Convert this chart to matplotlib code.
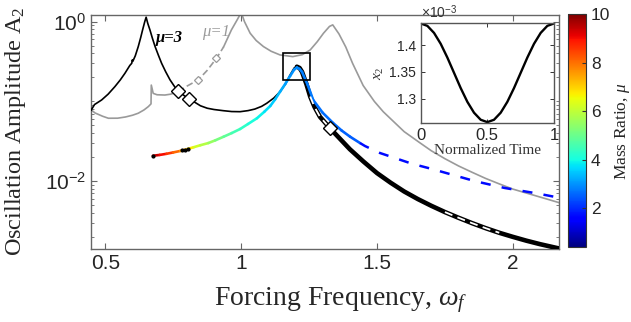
import matplotlib
matplotlib.use("Agg")
import matplotlib.pyplot as plt
import numpy as np
from matplotlib.collections import LineCollection
from matplotlib.colors import Normalize
from matplotlib.patches import Rectangle
from matplotlib.ticker import FixedLocator, FuncFormatter, LogLocator, NullFormatter

plt.rcParams["font.family"] = ["Liberation Sans", "DejaVu Sans"]
plt.rcParams["mathtext.fontset"] = "custom"
plt.rcParams["mathtext.rm"] = "Liberation Serif"
plt.rcParams["mathtext.it"] = "Liberation Serif:italic"

# --- data -----------------------------------------------------------------
# mu = 3 response (thin black)
mu3_w = [0.448, 0.460, 0.486, 0.510, 0.535, 0.555, 0.572, 0.590, 0.597, 0.599,
         0.601, 0.610, 0.621, 0.630, 0.637, 0.645, 0.650, 0.656, 0.664, 0.673,
         0.683, 0.695, 0.707, 0.722, 0.738, 0.752, 0.766, 0.808, 0.830, 0.850,
         0.875, 0.900, 0.934, 0.965, 0.996, 1.025, 1.050, 1.075, 1.094, 1.120,
         1.143, 1.163, 1.180, 1.195, 1.205]
mu3_A = [0.078, 0.0912, 0.104, 0.123, 0.153, 0.186, 0.225, 0.282, 0.300, 0.330,
         0.318, 0.372, 0.486, 0.631, 0.787, 1.000, 1.135, 0.950, 0.787, 0.620,
         0.486, 0.380, 0.300, 0.235, 0.186, 0.158, 0.135, 0.107, 0.097, 0.088,
         0.082, 0.079, 0.0764, 0.0745, 0.0742, 0.0765, 0.080, 0.0865, 0.0946, 0.110,
         0.132, 0.165, 0.214, 0.262, 0.272]

# mu = 1 response (gray): solid left part, dashed middle part, solid right part
mu1_left_w = [0.448, 0.462, 0.490, 0.511, 0.545, 0.574, 0.600, 0.621, 0.642, 0.658,
              0.668, 0.669, 0.676, 0.690, 0.719, 0.740, 0.756, 0.768]
mu1_left_A = [0.078, 0.0715, 0.065, 0.0614, 0.0615, 0.0637, 0.067, 0.071, 0.078, 0.0859,
              0.093, 0.160, 0.126, 0.121, 0.120, 0.123, 0.128, 0.133]
mu1_mid_w = [0.768, 0.800, 0.842, 0.875, 0.909, 0.935]
mu1_mid_A = [0.133, 0.155, 0.186, 0.245, 0.347, 0.480]
mu1_right_w = [0.935, 0.964, 0.985, 1.000, 1.012, 1.033, 1.055, 1.082, 1.110, 1.143,
               1.190, 1.225, 1.254, 1.280, 1.303, 1.325, 1.337, 1.360, 1.385, 1.410,
               1.449, 1.490, 1.523, 1.560, 1.600, 1.658, 1.700, 1.750, 1.800, 1.850,
               1.900, 1.950, 2.000, 2.060, 2.120, 2.170]
mu1_right_A = [0.480, 0.787, 1.050, 1.300, 1.000, 0.715, 0.580, 0.486, 0.425, 0.382,
               0.364, 0.385, 0.441, 0.560, 0.715, 0.870, 0.910, 0.700, 0.480, 0.300,
               0.158, 0.100, 0.0741, 0.0562, 0.0417, 0.0302, 0.0240, 0.0191, 0.0155, 0.0129,
               0.0108, 0.00923, 0.00794, 0.00692, 0.00603, 0.00537]
mu1_marker_w = [0.842, 0.909]
mu1_marker_A = [0.186, 0.347]

# optimal branch coloured by mass ratio
opt_w = [0.675, 0.700, 0.725, 0.750, 0.776, 0.800, 0.825, 0.850, 0.879, 0.905,
         0.935, 0.965, 0.996, 1.025, 1.058, 1.085, 1.107, 1.125, 1.143, 1.162,
         1.180, 1.195, 1.205, 1.215, 1.224, 1.245, 1.265, 1.300, 1.338, 1.370,
         1.401, 1.4375]
opt_A = [0.0208, 0.0213, 0.0220, 0.0229, 0.0239, 0.0251, 0.0266, 0.0282, 0.0300, 0.0325,
         0.0360, 0.0400, 0.0450, 0.0520, 0.0614, 0.0740, 0.0875, 0.106, 0.132, 0.165,
         0.208, 0.250, 0.266, 0.255, 0.234, 0.160, 0.104, 0.072, 0.0536, 0.0430,
         0.0360, 0.0300]
opt_mu = [9.6, 9.2, 8.8, 8.3, 7.8, 7.1, 6.4, 6.0, 5.7, 5.3,
          5.0, 4.7, 4.4, 4.2, 4.0, 3.8, 3.6, 3.45, 3.3, 3.15,
          3.0, 2.95, 2.9, 2.85, 2.8, 2.75, 2.7, 2.65, 2.6, 2.55,
          2.5, 2.45]
dot_w = [0.675, 0.782, 0.793, 0.804]
dot_A = [0.0208, 0.0242, 0.0247, 0.0253]

# low mass ratio continuation (blue dashed)
low_w = [1.4375, 1.456, 1.511, 1.629, 1.702, 1.860, 1.970, 2.090, 2.170]
low_A = [0.0300, 0.0275, 0.0225, 0.0165, 0.0142, 0.0100, 0.0082, 0.0070, 0.0062]
low_mu = 1.7

# high frequency branch (thick black)
hi_w = [1.205, 1.215, 1.224, 1.240, 1.254, 1.270, 1.290, 1.327, 1.350, 1.400,
        1.450, 1.500, 1.550, 1.600, 1.650, 1.700, 1.750, 1.800, 1.850, 1.900,
        1.950, 2.000, 2.050, 2.100, 2.170]
hi_A = [0.272, 0.262, 0.234, 0.165, 0.115, 0.085, 0.064, 0.046, 0.038, 0.0251,
        0.0176, 0.0126, 0.00955, 0.00741, 0.00596, 0.0049, 0.00409, 0.00347, 0.00297, 0.00257,
        0.00225, 0.0020, 0.00179, 0.00162, 0.00143]
unstable_ranges = [(1.25, 1.33), (1.74, 1.95)]

# bifurcation points
bif_w = [0.766, 0.808, 1.327]
bif_A = [0.135, 0.107, 0.046]

# zoom box
box_w = (1.153, 1.254)
box_A = (0.186, 0.408)

# inset time history (x2 in units of 1e-3)
t_norm = [0.00, 0.05, 0.10, 0.15, 0.20, 0.25, 0.30, 0.35, 0.40, 0.45, 0.50,
          0.55, 0.60, 0.65, 0.70, 0.75, 0.80, 0.85, 0.90, 0.95, 1.00]
x2_e3 = [1.4410, 1.4365, 1.4233, 1.4029, 1.3771, 1.3485, 1.3199, 1.2941, 1.2737, 1.2605,
         1.2560, 1.2605, 1.2737, 1.2941, 1.3199, 1.3485, 1.3771, 1.4029, 1.4233, 1.4365,
         1.4410]

x_ticks = [0.5, 1.0, 1.5, 2.0]
cb_ticks = [2, 4, 6, 8, 10]
mu_min, mu_max = 0.4, 10.0

# --- figure --------------------------------------------------------------
fig = plt.figure(figsize=(6.31, 3.22), dpi=100)
ax = fig.add_axes([0.1442, 0.2276, 0.7417, 0.7267])
cax = fig.add_axes([0.9002, 0.2329, 0.0285, 0.7236])
ins = fig.add_axes([0.6667, 0.618, 0.2113, 0.3115])

axis_col = "#666666"
gray = "#9a9a9a"
cmap = plt.get_cmap("jet")
norm = Normalize(mu_min, mu_max)

ax.plot(mu1_left_w, mu1_left_A, color=gray, lw=1.2, zorder=2)
ax.plot(mu1_mid_w, mu1_mid_A, color=gray, lw=1.2, dashes=(4, 2), zorder=2)
ax.plot(mu1_right_w, mu1_right_A, color=gray, lw=1.2, zorder=2)
ax.plot(mu1_marker_w, mu1_marker_A, ls="none", marker="D", ms=4.5,
        mfc="white", mec=gray, mew=0.9, zorder=3)

ax.plot(mu3_w, mu3_A, color="black", lw=1.2, zorder=3)
ax.plot(hi_w, hi_A, color="black", lw=3.3, solid_capstyle="round",
        solid_joinstyle="round", zorder=4)

pts = np.column_stack([opt_w, opt_A])
segs = np.stack([pts[:-1], pts[1:]], axis=1)
seg_mu = 0.5 * (np.array(opt_mu[:-1]) + np.array(opt_mu[1:]))
lc = LineCollection(segs, cmap=cmap, norm=norm, linewidths=1.9,
                    capstyle="round", zorder=5)
lc.set_array(seg_mu)
ax.add_collection(lc)
ax.plot(low_w, low_A, color=cmap(norm(low_mu)), lw=1.8, dashes=(4, 4.5), zorder=5)
ax.plot(dot_w, dot_A, ls="none", marker="o", ms=2, color="black", zorder=6)

hw = np.array(hi_w)
hA = np.array(hi_A)
for lo, hi in unstable_ranges:
    m = (hw >= lo) & (hw <= hi)
    ax.plot(hw[m], hA[m], color="white", lw=1.3, dashes=(4.5, 3), zorder=6)

ax.plot(bif_w, bif_A, ls="none", marker="D", ms=7, mfc="white", mec="black",
        mew=1.0, zorder=7)
ax.add_patch(Rectangle((box_w[0], box_A[0]), box_w[1] - box_w[0], box_A[1] - box_A[0],
                       fill=False, ec="black", lw=1.2, zorder=7))

ax.text(0.737, 0.624, "μ=3", family="Liberation Serif", style="italic",
        weight="bold", fontsize=12, ha="center", va="center", zorder=8)
ax.text(0.907, 0.732, "μ=1", family="Liberation Serif", style="italic",
        color=gray, fontsize=12, ha="center", va="center", zorder=8)

ax.set_yscale("log")
ax.set_xlim(0.447, 2.17)
ax.set_ylim(1.42e-3, 1.22)
ax.xaxis.set_major_locator(FixedLocator(x_ticks))
ax.xaxis.set_major_formatter(FuncFormatter(lambda v, p: f"{v:g}"))
ax.yaxis.set_major_locator(FixedLocator([1e-2, 1e0]))
ax.yaxis.set_minor_locator(LogLocator(base=10, subs=np.arange(1, 10), numticks=20))
ax.yaxis.set_minor_formatter(NullFormatter())
ax.tick_params(which="both", direction="in", top=True, right=True,
               color=axis_col, labelsize=15, labelcolor="#262626")
ax.tick_params(which="major", length=4.5, width=0.8)
ax.tick_params(which="minor", length=2.5, width=0.6)
for s in ax.spines.values():
    s.set_color(axis_col)
    s.set_linewidth(1.0)

fig.text(341 / 631, 1 - 305 / 322, "Forcing Frequency, $\\omega_f$",
         family="Liberation Serif", fontsize=20, ha="center", va="baseline",
         color="#262626")
fig.text(16 / 631, 1 - 131.5 / 322, "Oscillation Amplitude A$_2$",
         family="Liberation Serif", fontsize=17.5, rotation=90,
         ha="center", va="center", color="#262626")

# colorbar
sm = plt.cm.ScalarMappable(norm=norm, cmap=cmap)
cb = fig.colorbar(sm, cax=cax, ticks=cb_ticks)
cb.outline.set_edgecolor("#333333")
cb.outline.set_linewidth(0.8)
cax.tick_params(direction="in", length=3, labelsize=12.5, color="#333333",
                labelcolor="#262626")
fig.text(623 / 631, 1 - 131 / 322, "Mass Ratio, $\\mu$", family="Liberation Serif",
         fontsize=12.5, rotation=90, ha="center", va="center", color="#262626")

# inset
ins.plot(t_norm, x2_e3, color="black", lw=1.7)
ins.set_xlim(0, 1)
ins.set_ylim(1.2544, 1.4424)
ins.set_xticks([0, 0.5, 1])
ins.set_yticks([1.3, 1.35, 1.4])
ins.xaxis.set_major_formatter(FuncFormatter(lambda v, p: f"{v:g}"))
ins.yaxis.set_major_formatter(FuncFormatter(lambda v, p: f"{v:g}"))
ins.tick_params(direction="in", top=True, right=True, length=3, width=0.7,
                color="#333333", labelcolor="#262626")
ins.tick_params(axis="x", labelsize=12)
ins.tick_params(axis="y", labelsize=10)
for s in ins.spines.values():
    s.set_color("#555555")
    s.set_linewidth(1.0)
ins.set_xlabel("Normalized Time", family="Liberation Serif", fontsize=11,
               labelpad=1, color="#333333")
ins.set_ylabel("$x_2$", fontsize=11, labelpad=2, color="#333333")
ins.text(0.0, 1.02, "×10$^{\\mathregular{-3}}$", transform=ins.transAxes,
         fontsize=10, ha="left", va="bottom", color="#333333")

fig.savefig("out.png", dpi=100)
